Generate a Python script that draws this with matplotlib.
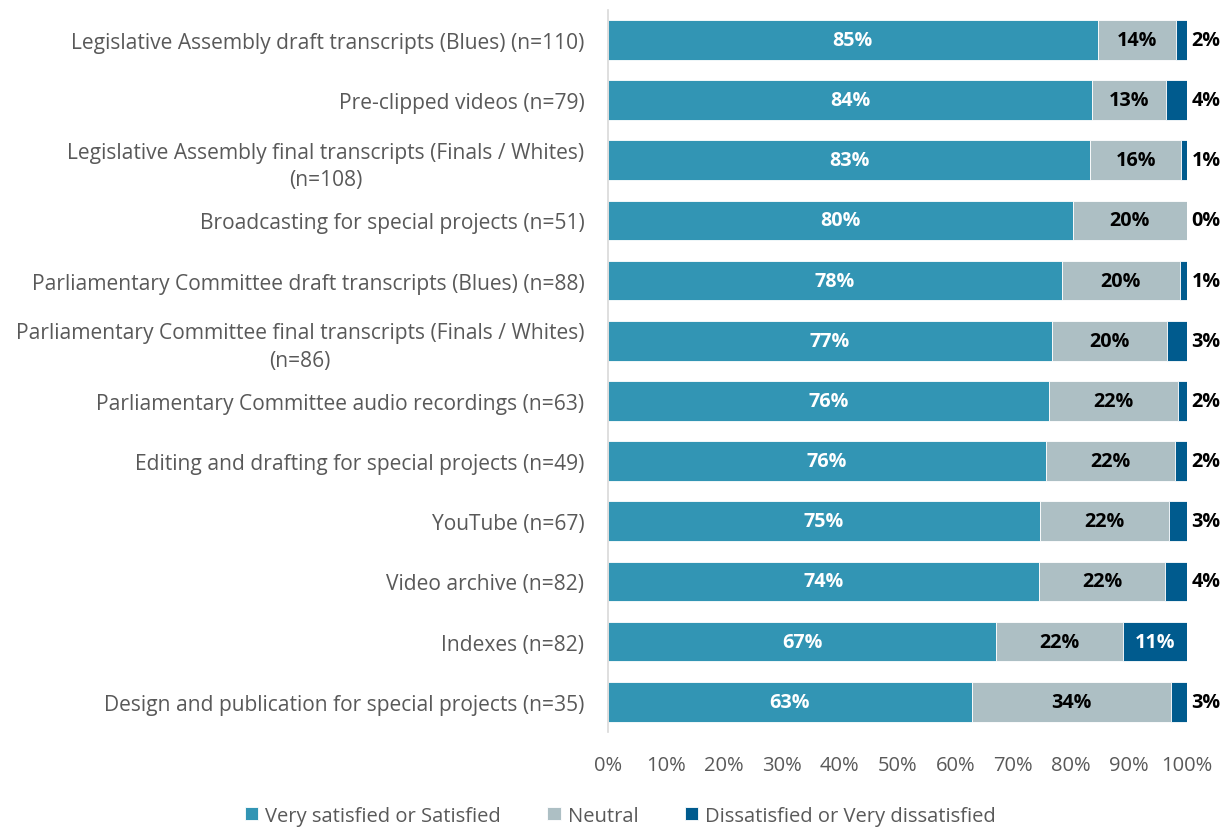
import numpy as np
import matplotlib.pyplot as plt

plt.rcParams['font.family'] = ['Open Sans', 'DejaVu Sans']

categories = [
    "Legislative Assembly draft transcripts (Blues) (n=110)",
    "Pre-clipped videos (n=79)",
    "Legislative Assembly final transcripts (Finals / Whites)\n(n=108)",
    "Broadcasting for special projects (n=51)",
    "Parliamentary Committee draft transcripts (Blues) (n=88)",
    "Parliamentary Committee final transcripts (Finals / Whites)\n(n=86)",
    "Parliamentary Committee audio recordings (n=63)",
    "Editing and drafting for special projects (n=49)",
    "YouTube (n=67)",
    "Video archive (n=82)",
    "Indexes (n=82)",
    "Design and publication for special projects (n=35)",
]
satisfied = [84.6, 83.6, 83.3, 80.3, 78.4, 76.7, 76.2, 75.6, 74.6, 74.4, 67.0, 62.8]
neutral = [13.6, 12.8, 15.7, 19.7, 20.4, 19.9, 22.2, 22.4, 22.4, 21.9, 22.0, 34.4]
dissatisfied = [1.8, 3.6, 1.0, 0.0, 1.2, 3.4, 1.6, 2.0, 3.0, 3.7, 11.0, 2.8]
series_names = ["Very satisfied or Satisfied", "Neutral", "Dissatisfied or Very dissatisfied"]
colors = ["#3295B4", "#ADBFC4", "#005B8E"]

fig = plt.figure(figsize=(12.26, 8.29), dpi=100)
ax = fig.add_axes([0.496, 0.116, 0.472, 0.871])

y = np.arange(len(categories))
sat = np.array(satisfied) / 100
neu = np.array(neutral) / 100
dis = np.array(dissatisfied) / 100

b1 = ax.barh(y, sat, height=0.66, color=colors[0], edgecolor='white', linewidth=0.6, label=series_names[0])
b2 = ax.barh(y, neu, left=sat, height=0.66, color=colors[1], edgecolor='white', linewidth=0.6, label=series_names[1])
b3 = ax.barh(y, dis, left=sat + neu, height=0.66, color=colors[2], edgecolor='white', linewidth=0.6, label=series_names[2])

lab_fs = 14.2
for i in range(len(categories)):
    ax.text(sat[i] / 2, y[i], f"{satisfied[i]:.0f}%", ha='center', va='center',
            color='white', fontsize=lab_fs, fontweight='bold')
    ax.text(sat[i] + neu[i] / 2, y[i], f"{neutral[i]:.0f}%", ha='center', va='center',
            color='black', fontsize=lab_fs, fontweight='bold')
    if dis[i] > 0.08:
        ax.text(sat[i] + neu[i] + dis[i] / 2, y[i], f"{dissatisfied[i]:.0f}%", ha='center',
                va='center', color='white', fontsize=lab_fs, fontweight='bold')
    else:
        # small segments get their label just past the bar end
        ax.text(1.008, y[i], f"{dissatisfied[i]:.0f}%", ha='left', va='center',
                color='black', fontsize=lab_fs, fontweight='bold', clip_on=False)

ax.set_xlim(0, 1)
ax.set_ylim(len(categories) - 0.5, -0.5)
ax.set_yticks(y)
ax.set_yticklabels(categories, fontsize=15.1, color='#595959', multialignment='center',
                   linespacing=1.4)
ax.set_xticks(np.arange(0, 1.01, 0.1))
ax.set_xticklabels([f"{int(v)}%" for v in range(0, 101, 10)], fontsize=14.5, color='#595959')
ax.tick_params(axis='y', length=0, pad=17)
ax.tick_params(axis='x', length=0, pad=17)
for s in ['top', 'right', 'bottom']:
    ax.spines[s].set_visible(False)
ax.spines['left'].set_color('#D9D9D9')
ax.spines['left'].set_linewidth(1.2)

leg = fig.legend(handles=[b1, b2, b3], loc='lower center', bbox_to_anchor=(0.506, -0.019),
                 ncol=3, frameon=False, fontsize=14.5, handlelength=0.65, handleheight=0.65,
                 handletextpad=0.35, columnspacing=2.3)
for t in leg.get_texts():
    t.set_color('#595959')

fig.savefig('out.png', dpi=100)
